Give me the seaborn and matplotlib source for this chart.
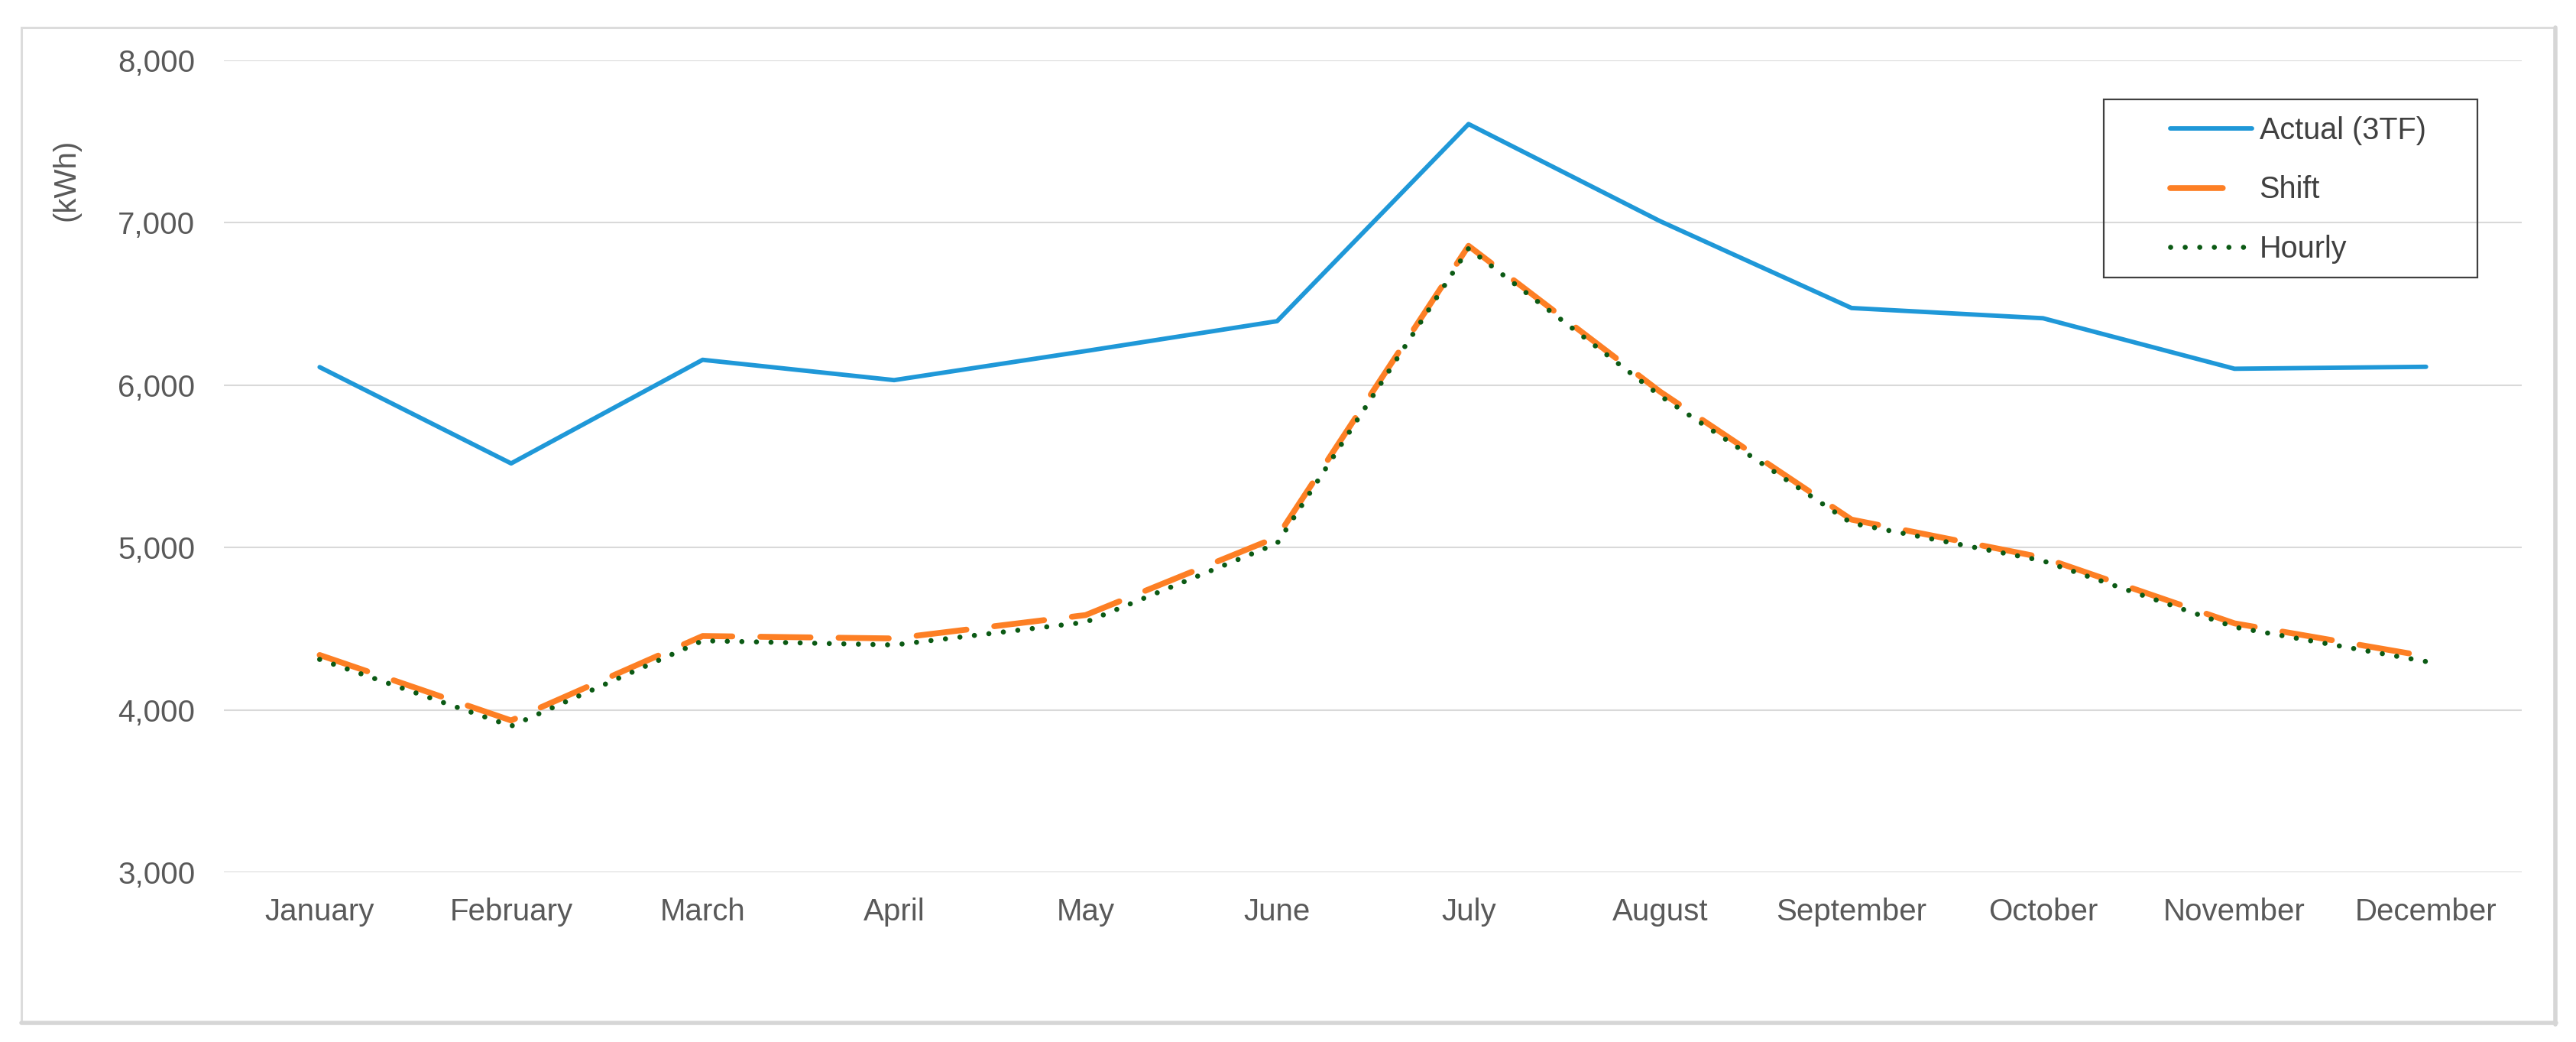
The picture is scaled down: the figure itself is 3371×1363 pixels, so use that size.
import matplotlib
matplotlib.use("Agg")
import matplotlib.pyplot as plt
from matplotlib.patches import Rectangle
from matplotlib.lines import Line2D
from matplotlib.ticker import FuncFormatter
import seaborn as sns
import pandas as pd

# monthly consumption (kWh)
months = ["January", "February", "March", "April", "May", "June",
          "July", "August", "September", "October", "November", "December"]
actual = [6111, 5518, 6156, 6031, 6210, 6394, 7608, 7010, 6475, 6412, 6101, 6113]
shift = [4338, 3935, 4455, 4440, 4584, 5064, 6858, 5960, 5172, 4938, 4533, 4330]
hourly = [4311, 3900, 4426, 4400, 4540, 5025, 6842, 5935, 5150, 4918, 4510, 4298]

W, H = 3371, 1363
BLUE, ORANGE, GREEN = "#1f98d8", "#fd7f24", "#0b5a14"

sns.set_theme(style="white")
plt.rcParams["font.family"] = ["Liberation Sans", "DejaVu Sans"]

fig = plt.figure(figsize=(W / 100, H / 100), dpi=100)
ax = fig.add_axes([293 / W, 1 - 1141 / H, (3300 - 293) / W, (1141 - 79) / H])

df = pd.DataFrame({"month": months, "Actual (3TF)": actual,
                   "Shift": shift, "Hourly": hourly})

sns.lineplot(data=df, x="month", y="Actual (3TF)", ax=ax, sort=False,
             color=BLUE, linewidth=4.2, solid_capstyle="round")
sns.lineplot(data=df, x="month", y="Shift", ax=ax, sort=False,
             color=ORANGE, linewidth=5.5, linestyle=(0, (8.6, 4.8)),
             dash_capstyle="round")
sns.lineplot(data=df, x="month", y="Hourly", ax=ax, sort=False,
             color=GREEN, linewidth=4.8, linestyle=(0, (0.01, 2.85)),
             dash_capstyle="round")

ax.set_xlim(-0.5, len(months) - 0.5)
ax.set_ylim(3000, 8000)
ax.set_yticks(range(3000, 8001, 1000))
ax.yaxis.set_major_formatter(FuncFormatter(lambda v, p: f"{int(v):,}"))
ax.grid(axis="y", color="#d9d9d9", linewidth=1.5)
ax.grid(axis="x", visible=False)
for s in ax.spines.values():
    s.set_visible(False)
ax.set_xlabel("")
ax.set_ylabel("")
ax.tick_params(axis="both", length=0, labelsize=29, labelcolor="#595959")
ax.tick_params(axis="y", pad=27)
ax.tick_params(axis="x", pad=24)

fig.text(86 / W, 1 - 235 / H, "(kWh)", rotation=90, ha="center", va="center",
         fontsize=29, color="#595959")

# legend handles: the Shift key shows a single short dash as in the original
handles = [
    Line2D([], [], color=BLUE, linewidth=4.2, solid_capstyle="round"),
    Line2D([], [], color=ORANGE, linewidth=5.5, linestyle=(0, (9.0, 20)),
           dash_capstyle="round"),
    Line2D([], [], color=GREEN, linewidth=4.8, linestyle=(0, (0.01, 2.85)),
           dash_capstyle="round"),
]
labels = ["Actual (3TF)", "Shift", "Hourly"]
leg = ax.legend(handles, labels, loc="upper left",
                bbox_to_anchor=(2820 / W, 1 - 132 / H),
                bbox_transform=fig.transFigure, frameon=False,
                borderpad=0, fontsize=28.5, handlelength=2.7,
                handletextpad=0.25, labelspacing=1.0)
for t in leg.get_texts():
    t.set_color("#404040")
fig.patches.append(Rectangle((2753 / W, 1 - 363 / H), 489 / W, 233 / H,
                             transform=fig.transFigure, fill=False,
                             edgecolor="#404040", linewidth=1.6))

# outer light frame, slightly heavier on the bottom and right
fig.patches.append(Rectangle((28 / W, 1 - 1337 / H), (3343 - 28) / W, (1337 - 36) / H,
                             transform=fig.transFigure, fill=False,
                             edgecolor="#dcdcdc", linewidth=2.2))
fig.add_artist(Line2D([28 / W, 3345 / W], [1 - 1338 / H, 1 - 1338 / H],
                      transform=fig.transFigure, color="#d6d6d6", linewidth=4))
fig.add_artist(Line2D([3344 / W, 3344 / W], [1 - 1340 / H, 1 - 36 / H],
                      transform=fig.transFigure, color="#d6d6d6", linewidth=4))

fig.savefig("out.png", dpi=100, facecolor="white")
plt.close(fig)
